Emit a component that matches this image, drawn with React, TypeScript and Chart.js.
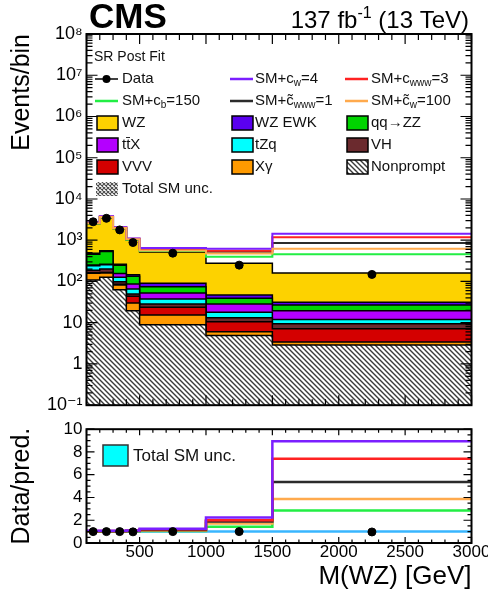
import React, { useEffect, useRef } from 'react';
import { Chart, registerables } from 'chart.js';
Chart.register(...registerables);

const FONT = "'Liberation Sans', Arial, 'DejaVu Sans', sans-serif";

// ---------- data ----------
const binEdges = [100, 200, 300, 400, 500, 1000, 1500, 3000];
const binCenters = [150, 250, 350, 450, 750, 1250, 2250];
// SM processes, events/bin (stacked bottom -> top)
const nonprompt = [108, 126, 63, 19.6, 8.9, 4.9, 2.9];
const xgamma = [50, 34, 19, 10.4, 6.5, 1.1, 0.5];
const vvv = [5, 5, 4, 13.7, 8.3, 4.6, 3.7];
const vh = [25, 35, 12, 6.3, 4.7, 2.5, 2.3];
const tzq = [52, 53, 28, 15.5, 9.2, 4.8, 2.5];
const ttx = [10, 10, 31, 21, 14.9, 10.5, 7.7];
const qqzz = [210, 270, 92, 46.5, 22, 10.6, 7.3];
const wzEwk = [20, 25, 14, 12, 15.5, 8, 4.4];
const wz = [2020, 2970, 1657, 855, 425, 231, 129];
const dataEvents = [2800, 3400, 1780, 880, 485, 249, 148];
// ratios to SM prediction
const ratioCw4 = [1.08, 1.08, 1.08, 1.1, 1.25, 2.25, 8.95];
const ratioCwww3 = [1.06, 1.06, 1.06, 1.08, 1.2, 2.0, 7.4];
const ratioCtwww1 = [1.04, 1.04, 1.04, 1.06, 1.15, 1.9, 5.35];
const ratioCtw100 = [1.03, 1.03, 1.03, 1.05, 1.1, 1.72, 3.87];
const ratioCb150 = [1.02, 1.02, 1.02, 1.03, 1.06, 1.43, 2.85];
const ratioData = [1.0, 1.0, 1.0, 0.98, 1.0, 1.0, 0.97];
const ratioUnc = [1, 1, 1, 1, 1, 1, 1];
// ticks
const yTopTicks = [0.1, 1, 10, 1e2, 1e3, 1e4, 1e5, 1e6, 1e7, 1e8];
const yBottomTicks = [0, 2, 4, 6, 8, 10];
const xTicks = [500, 1000, 1500, 2000, 2500, 3000];

const COL = {
  wz: '#fdd200', ewk: '#5a00f0', zz: '#00d400', ttx: '#b400ff', tzq: '#00ffff',
  vh: '#6b2a2e', vvv: '#d40000', xg: '#ff9a00',
  cw4: '#7b1fff', cwww3: '#ff2222', ctwww1: '#2b2b2b', ctw100: '#ffaa4d', cb150: '#22ee44',
  unc: '#38b6ff',
};

const SUP: Record<string, string> = { '-': '⁻', '0': '⁰', '1': '¹', '2': '²', '3': '³', '4': '⁴', '5': '⁵', '6': '⁶', '7': '⁷', '8': '⁸', '9': '⁹' };
function logLabel(v: number) {
  const e = Math.round(Math.log10(v));
  if (e === 0) return '1';
  if (e === 1) return '10';
  return '10' + String(e).split('').map((c) => SUP[c]).join('');
}

function makeHatch(size: number, color: string, lw: number, both: boolean) {
  const c = document.createElement('canvas');
  c.width = size; c.height = size;
  const g = c.getContext('2d')!;
  g.fillStyle = '#fff'; g.fillRect(0, 0, size, size);
  g.strokeStyle = color; g.lineWidth = lw;
  g.beginPath();
  for (let k = -1; k <= 1; k++) {
    g.moveTo(-size, -size + k * size); g.lineTo(2 * size, 2 * size + k * size);
    if (both) { g.moveTo(-size, 2 * size + k * size); g.lineTo(2 * size, -size + k * size); }
  }
  g.stroke();
  return g.createPattern(c, 'repeat')!;
}

type Seg = { t: string; sub?: boolean; sup?: boolean };
function drawRich(ctx: any, segs: Seg[], x: number, y: number, size: number, align = 'left', baseline = 'middle') {
  const fN = `${size}px ${FONT}`;
  const fS = `${Math.round(size * 0.68)}px ${FONT}`;
  let w = 0;
  const ws = segs.map((s) => { ctx.font = s.sub || s.sup ? fS : fN; const m = ctx.measureText(s.t).width; w += m; return m; });
  let cx = align === 'right' ? x - w : x;
  ctx.textAlign = 'left';
  ctx.textBaseline = baseline;
  segs.forEach((s, i) => {
    ctx.font = s.sub || s.sup ? fS : fN;
    const dy = s.sub ? size * 0.3 : s.sup ? -size * 0.42 : 0;
    ctx.fillText(s.t, cx, y + dy);
    cx += ws[i];
  });
}

function drawRootAxes(chart: any, cfg: any) {
  const { ctx, chartArea: a, scales } = chart;
  const xs = scales.x, ys = scales.y;
  ctx.save();
  ctx.strokeStyle = '#000';
  ctx.lineWidth = 1.2;
  ctx.beginPath();
  const vt = (v: number, len: number) => {
    const p = ys.getPixelForValue(v);
    if (p < a.top - 0.5 || p > a.bottom + 0.5) return;
    ctx.moveTo(a.left, p); ctx.lineTo(a.left + len, p);
    ctx.moveTo(a.right, p); ctx.lineTo(a.right - len, p);
  };
  const ht = (v: number, len: number) => {
    const p = xs.getPixelForValue(v);
    if (p < a.left - 0.5 || p > a.right + 0.5) return;
    ctx.moveTo(p, a.bottom); ctx.lineTo(p, a.bottom - len);
    ctx.moveTo(p, a.top); ctx.lineTo(p, a.top + len);
  };
  cfg.yMajor.forEach((v: number) => vt(v, cfg.yMajLen));
  cfg.yMinor.forEach((v: number) => vt(v, cfg.yMinLen));
  cfg.xMajor.forEach((v: number) => ht(v, cfg.xMajLen));
  cfg.xMinor.forEach((v: number) => ht(v, cfg.xMinLen));
  ctx.stroke();
  ctx.lineWidth = 2;
  ctx.strokeRect(a.left, a.top, a.right - a.left, a.bottom - a.top);
  ctx.restore();
}

export default function App() {
  const topRef = useRef<HTMLCanvasElement>(null);
  const botRef = useRef<HTMLCanvasElement>(null);

  useEffect(() => {
    Chart.defaults.font.family = FONT;
    Chart.defaults.color = '#000';
    const hatch = makeHatch(5, '#3a3a3a', 1.4, false);
    const cross = makeHatch(4, '#4a4a4a', 1.1, true);
    const n = binCenters.length;
    const step = (vals: number[]) => {
      const pts = vals.map((v, i) => ({ x: binEdges[i], y: v }));
      pts.push({ x: binEdges[n], y: vals[n - 1] });
      return pts;
    };

    const comps = [
      { label: 'Nonprompt', vals: nonprompt, color: hatch },
      { label: 'Xγ', vals: xgamma, color: COL.xg },
      { label: 'VVV', vals: vvv, color: COL.vvv },
      { label: 'VH', vals: vh, color: COL.vh },
      { label: 'tZq', vals: tzq, color: COL.tzq },
      { label: 'ttX', vals: ttx, color: COL.ttx },
      { label: 'qq→ZZ', vals: qqzz, color: COL.zz },
      { label: 'WZ EWK', vals: wzEwk, color: COL.ewk },
      { label: 'WZ', vals: wz, color: COL.wz },
    ];
    let run = new Array(n).fill(0);
    const stackSets: any[] = comps.map((c, i) => {
      run = run.map((r, j) => r + c.vals[j]);
      return {
        label: c.label, data: step(run), stepped: 'before', fill: i === 0 ? 'start' : '-1',
        backgroundColor: c.color, borderColor: '#000', borderWidth: 1.5, pointRadius: 0, order: 6,
      };
    });
    const total = run.slice();
    const eftTop = (label: string, ratio: number[], color: string, order: number, extra: any = {}) => ({
      label, data: step(total.map((t, j) => t * ratio[j])), stepped: 'before', borderColor: color,
      borderWidth: 2, pointRadius: 0, fill: false, order, ...extra,
    });

    const topDatasets = [
      ...stackSets,
      eftTop('SM+c̃www=1', ratioCtwww1, COL.ctwww1, 7, { fill: { target: 8 }, backgroundColor: '#ffffff' }),
      eftTop('SM+cb=150', ratioCb150, COL.cb150, 4),
      eftTop('SM+cwww=3', ratioCwww3, COL.cwww3, 3),
      eftTop('SM+cw=4', ratioCw4, COL.cw4, 2),
      eftTop('SM+c̃w=100', ratioCtw100, COL.ctw100, 1),
      {
        label: 'Data', data: binCenters.map((x, i) => ({ x, y: dataEvents[i] })), showLine: false,
        pointRadius: 4, pointBackgroundColor: '#000', pointBorderColor: '#000', order: 0,
      },
    ];

    const xMinor: number[] = [];
    for (let v = 100; v <= 3000; v += 100) if (v % 500 !== 0) xMinor.push(v);
    const yLogMinor: number[] = [];
    for (let k = -1; k < 8; k++) for (let m = 2; m <= 9; m++) yLogMinor.push(m * Math.pow(10, k));
    const yLinMinor: number[] = [];
    for (let v = 0; v <= 10; v += 0.5) if (v % 2 !== 0) yLinMinor.push(v);

    const legendRows = [79, 101, 123, 145, 167, 189];
    const legendCols = [{ sx: 95, tx: 122 }, { sx: 230, tx: 255 }, { sx: 345, tx: 371 }];
    const legendEntries: any[] = [
      { r: 0, c: 0, kind: 'data', segs: [{ t: 'Data' }] },
      { r: 0, c: 1, kind: 'line', color: COL.cw4, segs: [{ t: 'SM+c' }, { t: 'w', sub: true }, { t: '=4' }] },
      { r: 0, c: 2, kind: 'line', color: COL.cwww3, segs: [{ t: 'SM+c' }, { t: 'www', sub: true }, { t: '=3' }] },
      { r: 1, c: 0, kind: 'line', color: COL.cb150, segs: [{ t: 'SM+c' }, { t: 'b', sub: true }, { t: '=150' }] },
      { r: 1, c: 1, kind: 'line', color: COL.ctwww1, segs: [{ t: 'SM+c\u0303' }, { t: 'www', sub: true }, { t: '=1' }] },
      { r: 1, c: 2, kind: 'line', color: COL.ctw100, segs: [{ t: 'SM+c\u0303' }, { t: 'w', sub: true }, { t: '=100' }] },
      { r: 2, c: 0, kind: 'box', color: COL.wz, segs: [{ t: 'WZ' }] },
      { r: 2, c: 1, kind: 'box', color: COL.ewk, segs: [{ t: 'WZ EWK' }] },
      { r: 2, c: 2, kind: 'box', color: COL.zz, segs: [{ t: 'qq→ZZ' }] },
      { r: 3, c: 0, kind: 'box', color: COL.ttx, segs: [{ t: 'tt\u0304X' }] },
      { r: 3, c: 1, kind: 'box', color: COL.tzq, segs: [{ t: 'tZq' }] },
      { r: 3, c: 2, kind: 'box', color: COL.vh, segs: [{ t: 'VH' }] },
      { r: 4, c: 0, kind: 'box', color: COL.vvv, segs: [{ t: 'VVV' }] },
      { r: 4, c: 1, kind: 'box', color: COL.xg, segs: [{ t: 'Xγ' }] },
      { r: 4, c: 2, kind: 'box', color: hatch, segs: [{ t: 'Nonprompt' }] },
      { r: 5, c: 0, kind: 'unc', color: cross, segs: [{ t: 'Total SM unc.' }] },
    ];

    const topPlugin = {
      id: 'topDecor',
      afterDraw(chart: any) {
        drawRootAxes(chart, {
          yMajor: yTopTicks, yMinor: yLogMinor, yMajLen: 11, yMinLen: 6,
          xMajor: xTicks, xMinor, xMajLen: 10, xMinLen: 6,
        });
        const ctx = chart.ctx;
        ctx.save();
        ctx.fillStyle = '#000';
        ctx.textBaseline = 'alphabetic';
        ctx.textAlign = 'left';
        ctx.font = `bold 35px ${FONT}`;
        ctx.fillText('CMS', 89, 28);
        drawRich(ctx, [{ t: '137 fb' }, { t: '-1', sup: true }, { t: ' (13 TeV)' }], 469, 28, 24, 'right', 'alphabetic');
        // legend
        ctx.fillStyle = '#111';
        drawRich(ctx, [{ t: 'SR Post Fit' }], 94, 57, 14);
        legendEntries.forEach((e) => {
          const y = legendRows[e.r];
          const { sx, tx } = legendCols[e.c];
          ctx.save();
          if (e.kind === 'data') {
            ctx.strokeStyle = '#000'; ctx.lineWidth = 1.5;
            ctx.beginPath(); ctx.moveTo(sx, y); ctx.lineTo(sx + 23, y); ctx.stroke();
            ctx.fillStyle = '#000'; ctx.beginPath(); ctx.arc(sx + 11.5, y, 4, 0, Math.PI * 2); ctx.fill();
          } else if (e.kind === 'line') {
            ctx.strokeStyle = e.color; ctx.lineWidth = 2.5;
            ctx.beginPath(); ctx.moveTo(sx, y); ctx.lineTo(sx + 23, y); ctx.stroke();
          } else if (e.kind === 'box') {
            ctx.fillStyle = e.color; ctx.fillRect(sx + 2, y - 7, 21, 14);
            ctx.strokeStyle = '#000'; ctx.lineWidth = 1.5; ctx.strokeRect(sx + 2, y - 7, 21, 14);
          } else if (e.kind === 'unc') {
            ctx.fillStyle = e.color; ctx.fillRect(sx + 1, y - 7, 22, 14);
          }
          ctx.restore();
          ctx.fillStyle = '#111';
          drawRich(ctx, e.segs, tx, y, 15);
        });
        ctx.restore();
      },
    };

    const top = new Chart(topRef.current!, {
      type: 'line',
      data: { datasets: topDatasets as any },
      options: {
        animation: false, responsive: false, devicePixelRatio: 1,
        layout: { padding: { left: 0, right: 16.5, top: 34, bottom: 0 } },
        plugins: { legend: { display: false }, tooltip: { enabled: false } },
        scales: {
          x: {
            type: 'linear', min: 100, max: 3000,
            ticks: { display: false }, grid: { display: false, drawTicks: false }, border: { display: false },
            afterFit: (s: any) => { s.height = 13; s.paddingLeft = 0; s.paddingRight = 0; },
          },
          y: {
            type: 'logarithmic', min: 0.1, max: 1e8,
            afterBuildTicks: (s: any) => { s.ticks = yTopTicks.map((v) => ({ value: v })); },
            ticks: { callback: (v: any) => logLabel(Number(v)), font: { size: 18 }, color: '#000', padding: 4, autoSkip: false },
            grid: { display: false, drawTicks: false }, border: { display: false },
            title: { display: true, text: 'Events/bin', align: 'end', font: { size: 25 }, color: '#000', padding: { top: 7, bottom: 0 } },
            afterFit: (s: any) => { s.width = 86.5; },
          },
        },
      } as any,
      plugins: [topPlugin],
    });

    const botPlugin = {
      id: 'botDecor',
      afterDraw(chart: any) {
        drawRootAxes(chart, {
          yMajor: yBottomTicks, yMinor: yLinMinor, yMajLen: 8, yMinLen: 4,
          xMajor: xTicks, xMinor, xMajLen: 6, xMinLen: 3.5,
        });
        const ctx = chart.ctx;
        ctx.save();
        ctx.fillStyle = '#00ffff';
        ctx.fillRect(103, 445 - 415, 25, 21);
        ctx.strokeStyle = '#333'; ctx.lineWidth = 1.5;
        ctx.strokeRect(103, 445 - 415, 25, 21);
        ctx.fillStyle = '#111';
        drawRich(ctx, [{ t: 'Total SM unc.' }], 133, 456 - 415, 17);
        ctx.restore();
      },
    };

    const eftBot = (label: string, ratio: number[], color: string, order: number) => ({
      label, data: step(ratio), stepped: 'before', borderColor: color, borderWidth: 2.5,
      pointRadius: 0, fill: false, order,
    });
    const bot = new Chart(botRef.current!, {
      type: 'line',
      data: {
        datasets: [
          eftBot('Total SM unc.', ratioUnc, COL.unc, 6),
          eftBot('SM+cb=150', ratioCb150, COL.cb150, 5),
          eftBot('SM+c̃w=100', ratioCtw100, COL.ctw100, 4),
          eftBot('SM+c̃www=1', ratioCtwww1, COL.ctwww1, 3),
          eftBot('SM+cwww=3', ratioCwww3, COL.cwww3, 2),
          eftBot('SM+cw=4', ratioCw4, COL.cw4, 1),
          {
            label: 'Data', data: binCenters.map((x, i) => ({ x, y: ratioData[i] })), showLine: false,
            pointRadius: 4, pointBackgroundColor: '#000', pointBorderColor: '#000', order: 0,
          },
        ] as any,
      },
      options: {
        animation: false, responsive: false, devicePixelRatio: 1,
        layout: { padding: { left: 0, right: 16.5, top: 12, bottom: 0 } },
        plugins: { legend: { display: false }, tooltip: { enabled: false } },
        scales: {
          x: {
            type: 'linear', min: 100, max: 3000,
            afterBuildTicks: (s: any) => { s.ticks = xTicks.map((v) => ({ value: v })); },
            ticks: { callback: (v: any) => String(v), font: { size: 17 }, color: '#000', padding: -1, maxRotation: 0, autoSkip: false },
            grid: { display: false, drawTicks: false }, border: { display: false },
            title: { display: true, text: 'M(WZ) [GeV]', align: 'end', font: { size: 26 }, color: '#000', padding: { top: 0, bottom: 5 } },
            afterFit: (s: any) => { s.height = 54; s.paddingLeft = 0; s.paddingRight = 0; },
          },
          y: {
            type: 'linear', min: 0, max: 10,
            afterBuildTicks: (s: any) => { s.ticks = yBottomTicks.map((v) => ({ value: v })); },
            ticks: { callback: (v: any) => String(v), font: { size: 17 }, color: '#000', padding: 4, autoSkip: false },
            grid: { display: false, drawTicks: false }, border: { display: false },
            title: { display: true, text: 'Data/pred.', align: 'center', font: { size: 25 }, color: '#000', padding: { top: 7, bottom: 0 } },
            afterFit: (s: any) => { s.width = 86.5; },
          },
        },
      } as any,
      plugins: [botPlugin],
    });

    return () => { top.destroy(); bot.destroy(); };
  }, []);

  return (
    <div style={{ position: 'fixed', left: 0, top: 0, width: 488, height: 597, background: '#fff', overflow: 'hidden' }}>
      <canvas ref={topRef} width={488} height={420} style={{ position: 'absolute', left: 0, top: 0, width: 488, height: 420 }} />
      <canvas ref={botRef} width={488} height={182} style={{ position: 'absolute', left: 0, top: 415, width: 488, height: 182 }} />
    </div>
  );
}
